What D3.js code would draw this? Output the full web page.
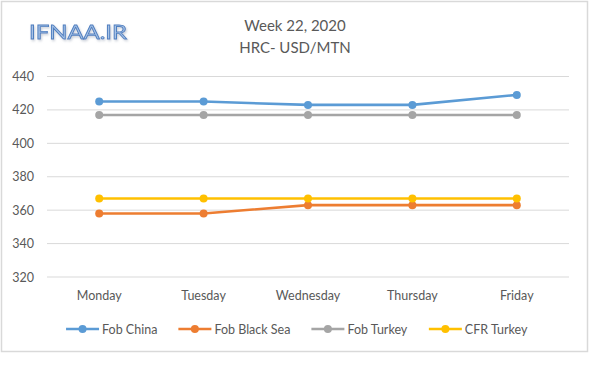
<!DOCTYPE html>
<html><head><meta charset="utf-8">
<script src="https://cdn.jsdelivr.net/npm/d3@7"></script>
<style>
html,body{margin:0;padding:0;background:#fff;}
svg{display:block;}
text{font-family:Lato,"Liberation Sans",sans-serif;fill:#595959;}
</style></head>
<body>
<script>
const categories = ["Monday","Tuesday","Wednesday","Thursday","Friday"];
const seriesNames = ["Fob China","Fob Black Sea","Fob Turkey","CFR Turkey"];
const fobChina = [425,425,423,423,429];
const fobBlackSea = [358,358,363,363,363];
const fobTurkey = [417,417,417,417,417];
const cfrTurkey = [367,367,367,367,367];
const yTicks = [320,340,360,380,400,420,440];
const colors = ["#5b9bd5","#ed7d31","#a5a5a5","#ffc000"];
const titleLines = ["Week 22, 2020","HRC- USD/MTN"];
const logoText = "IFNAA.IR";

const seriesValues = [fobChina, fobBlackSea, fobTurkey, cfrTurkey];
const series = seriesNames.map((n,i)=>({name:n,color:colors[i],values:seriesValues[i]}));

const W=600,H=377;
const svg=d3.select("body").append("svg").attr("width",W).attr("height",H);

// outer border
svg.append("rect").attr("x",1.5).attr("y",1.5).attr("width",586).attr("height",350)
  .attr("fill","#fff").attr("stroke","#d9d9d9").attr("stroke-width",1.5);

const x=d3.scaleBand().domain(categories).range([47,569]);
const y=d3.scaleLinear().domain([320,440]).range([277,76.5]);

// gridlines
svg.append("g").selectAll("line").data(yTicks).join("line")
  .attr("x1",47).attr("x2",569)
  .attr("y1",d=>y(d)).attr("y2",d=>y(d))
  .attr("stroke","#d9d9d9").attr("stroke-width",1);

// y axis labels
const yAxis=d3.axisLeft(y).tickValues(yTicks).tickSize(0).tickPadding(0);
const yg=svg.append("g").attr("transform","translate(34,0)").call(yAxis);
yg.select(".domain").remove();
yg.selectAll("text").style("font-family","Lato, 'Liberation Sans', sans-serif").attr("font-size",12.5).attr("fill","#595959");

// x axis labels
const xAxis=d3.axisBottom(x).tickSize(0).tickPadding(0);
const xg=svg.append("g").attr("transform","translate(0,291)").call(xAxis);
xg.select(".domain").remove();
xg.selectAll("text").style("font-family","Lato, 'Liberation Sans', sans-serif").attr("font-size",12.5).attr("fill","#595959");

// lines
const line=d3.line().x((d,i)=>x(categories[i])+x.bandwidth()/2).y(d=>y(d));
const sg=svg.append("g").selectAll("g").data(series).join("g");
sg.append("path").attr("d",d=>line(d.values)).attr("fill","none")
  .attr("stroke",d=>d.color).attr("stroke-width",2.6).attr("stroke-linejoin","round");
sg.selectAll("circle").data(d=>d.values.map((v,i)=>({v,i,c:d.color}))).join("circle")
  .attr("cx",d=>x(categories[d.i])+x.bandwidth()/2).attr("cy",d=>y(d.v))
  .attr("r",4).attr("fill",d=>d.c);

// title
svg.append("g").selectAll("text").data(titleLines).join("text")
  .attr("x",295).attr("y",(d,i)=>31+i*22).attr("text-anchor","middle")
  .attr("font-size",15).text(d=>d);

// logo
const defs=svg.append("defs");
const f=defs.append("filter").attr("id","sh").attr("x","-10%").attr("y","-20%").attr("width","130%").attr("height","150%");
f.append("feDropShadow").attr("dx",1).attr("dy",1.5).attr("stdDeviation",0.8).attr("flood-color","#b0b8c6").attr("flood-opacity",0.7);
svg.append("text").attr("x",29).attr("y",39).attr("font-size",19).attr("font-weight","normal")
  .style("fill","#a8c3e6").attr("stroke","#4f7fc0").attr("stroke-width",0.8)
  .attr("filter","url(#sh)").attr("textLength",98).attr("lengthAdjust","spacingAndGlyphs")
  .text(logoText);

// legend
const lg=svg.append("g");
const items=lg.selectAll("g").data(series).join("g");
items.append("line").attr("x1",0).attr("x2",33).attr("y1",0).attr("y2",0)
  .attr("stroke",d=>d.color).attr("stroke-width",2.6);
items.append("circle").attr("cx",16.5).attr("cy",0).attr("r",4).attr("fill",d=>d.color);
items.append("text").attr("x",36).attr("y",4.5).attr("font-size",12.5).text(d=>d.name);
let widths=[];
items.each(function(){widths.push(this.getBBox().width);});
const gap=21;
const total=d3.sum(widths)+gap*(widths.length-1);
let cx=297-total/2;
items.attr("transform",(d,i)=>{const t=`translate(${cx},329)`;cx+=widths[i]+gap;return t;});
</script>
</body></html>
